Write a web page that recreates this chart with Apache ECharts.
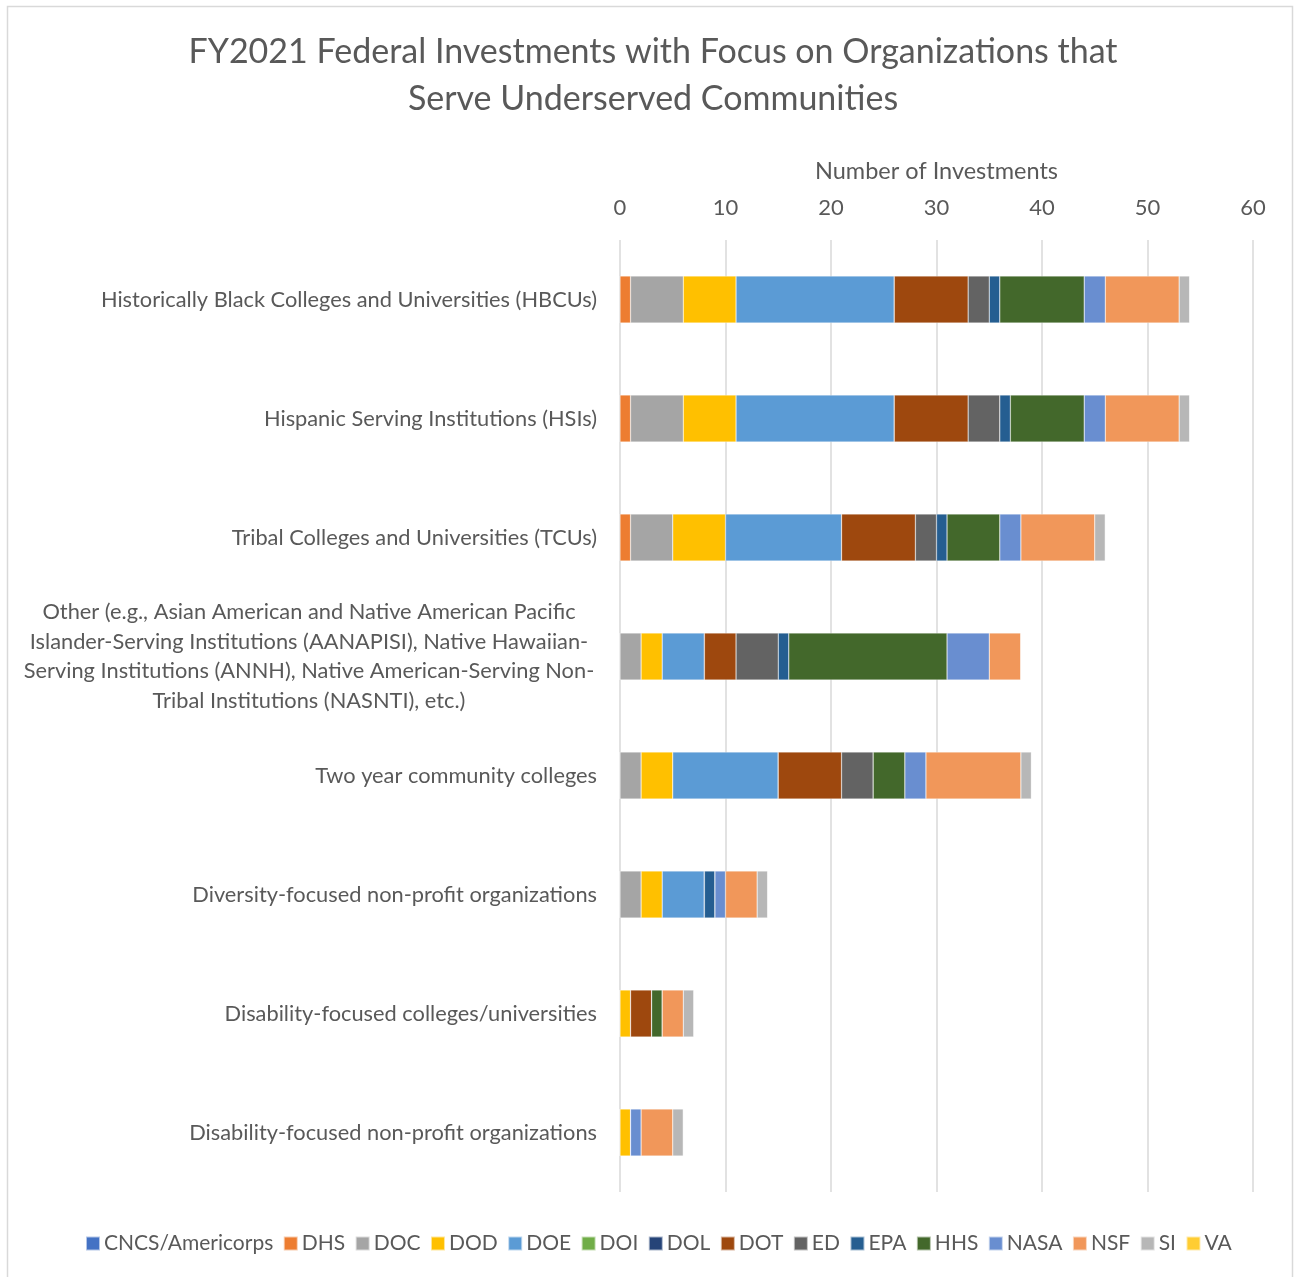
<!DOCTYPE html>
<html>
<head>
<meta charset="utf-8">
<title>FY2021 Federal Investments</title>
<script src="https://cdn.jsdelivr.net/npm/echarts@6/dist/echarts.min.js"></script>
<style>
  html, body { margin: 0; padding: 0; background: #fff; }
  #chart { width: 1295px; height: 1277px; }
</style>
</head>
<body>
<div id="chart"></div>
<script>
// categories, top to bottom
const categories = [
  'Historically Black Colleges and Universities (HBCUs)',
  'Hispanic Serving Institutions (HSIs)',
  'Tribal Colleges and Universities (TCUs)',
  'Other (e.g., Asian American and Native American Pacific\nIslander-Serving Institutions (AANAPISI), Native Hawaiian-\nServing Institutions (ANNH), Native American-Serving Non-\nTribal Institutions (NASNTI), etc.)',
  'Two year community colleges',
  'Diversity-focused non-profit organizations',
  'Disability-focused colleges/universities',
  'Disability-focused non-profit organizations'
]

const agencies = ['CNCS/Americorps', 'DHS', 'DOC', 'DOD', 'DOE', 'DOI', 'DOL', 'DOT', 'ED', 'EPA', 'HHS', 'NASA', 'NSF', 'SI', 'VA']
const agencyColors = ['#4472C4', '#ED7D31', '#A5A5A5', '#FFC000', '#5B9BD5', '#70AD47', '#264478', '#9E480E', '#636363', '#255E91', '#43682B', '#698ED0', '#F1975A', '#B7B7B7', '#FFCD33']

// investments per agency, one value per category (same order as categories)
const cncs = [0, 0, 0, 0, 0, 0, 0, 0]
const dhs  = [1, 1, 1, 0, 0, 0, 0, 0]
const doc  = [5, 5, 4, 2, 2, 2, 0, 0]
const dod  = [5, 5, 5, 2, 3, 2, 1, 1]
const doe  = [15, 15, 11, 4, 10, 4, 0, 0]
const doi  = [0, 0, 0, 0, 0, 0, 0, 0]
const dol  = [0, 0, 0, 0, 0, 0, 0, 0]
const dot  = [7, 7, 7, 3, 6, 0, 2, 0]
const ed   = [2, 3, 2, 4, 3, 0, 0, 0]
const epa  = [1, 1, 1, 1, 0, 1, 0, 0]
const hhs  = [8, 7, 5, 15, 3, 0, 1, 0]
const nasa = [2, 2, 2, 4, 2, 1, 0, 1]
const nsf  = [7, 7, 7, 3, 9, 3, 2, 3]
const si   = [1, 1, 1, 0, 1, 1, 1, 1]
const va   = [0, 0, 0, 0, 0, 0, 0, 0]

const seriesValues = [cncs, dhs, doc, dod, doe, doi, dol, dot, ed, epa, hhs, nasa, nsf, si, va]

const xTicks = [0, 10, 20, 30, 40, 50, 60]

const textColor = '#595959'
const fontFamily = 'Lato, "Noto Sans", sans-serif'

const chart = echarts.init(document.getElementById('chart'))

const option = {
  backgroundColor: '#fff',
  animation: false,
  textStyle: { fontFamily: fontFamily, color: textColor },
  graphic: [{
    type: 'rect',
    shape: { x: 7.5, y: 6.5, width: 1285, height: 1300 },
    style: { fill: 'none', stroke: '#D9D9D9', lineWidth: 1.5 },
    silent: true
  }],
  title: {
    text: 'FY2021 Federal Investments with Focus on Organizations that\nServe Underserved Communities',
    left: 648,
    top: 24,
    textAlign: 'center',
    textStyle: {
      fontFamily: fontFamily,
      fontSize: 34,
      fontWeight: 'normal',
      color: textColor,
      lineHeight: 47
    }
  },
  legend: {
    bottom: 18,
    left: 80,
    itemWidth: 14,
    itemHeight: 14,
    itemGap: 9.5,
    icon: 'rect',
    textStyle: { fontSize: 21, color: textColor, fontFamily: fontFamily, padding: [0, 0, 0, -1] },
    data: agencies
  },
  grid: {
    left: 620,
    right: 42,
    top: 240,
    bottom: 85,
    containLabel: false
  },
  xAxis: {
    type: 'value',
    position: 'top',
    min: xTicks[0],
    max: xTicks[xTicks.length - 1],
    interval: 10,
    name: 'Number of Investments',
    nameLocation: 'middle',
    nameGap: 57,
    nameTextStyle: { fontSize: 23.5, color: textColor },
    axisLine: { show: false },
    axisTick: { show: false },
    axisLabel: { fontSize: 22, color: textColor, margin: 21 },
    splitLine: { lineStyle: { color: '#D9D9D9', width: 1.5 } }
  },
  yAxis: {
    type: 'category',
    inverse: true,
    data: categories,
    axisLine: { show: false },
    axisTick: { show: false },
    axisLabel: {
      margin: 23,
      fontSize: 21.8,
      color: textColor,
      formatter: (v) => v.indexOf('\n') >= 0 ? '{o|' + v + '}' : v,
      rich: {
        o: { width: 576, align: 'center', fontSize: 21.8, lineHeight: 29.5, color: textColor, fontFamily: fontFamily }
      }
    }
  },
  series: agencies.map((name, i) => ({
    name: name,
    type: 'bar',
    stack: 'total',
    barWidth: 47,
    itemStyle: { color: agencyColors[i], borderColor: 'rgba(255,255,255,0.6)', borderWidth: 0.5 },
    data: seriesValues[i]
  }))
}

chart.setOption(option)
</script>
</body>
</html>
